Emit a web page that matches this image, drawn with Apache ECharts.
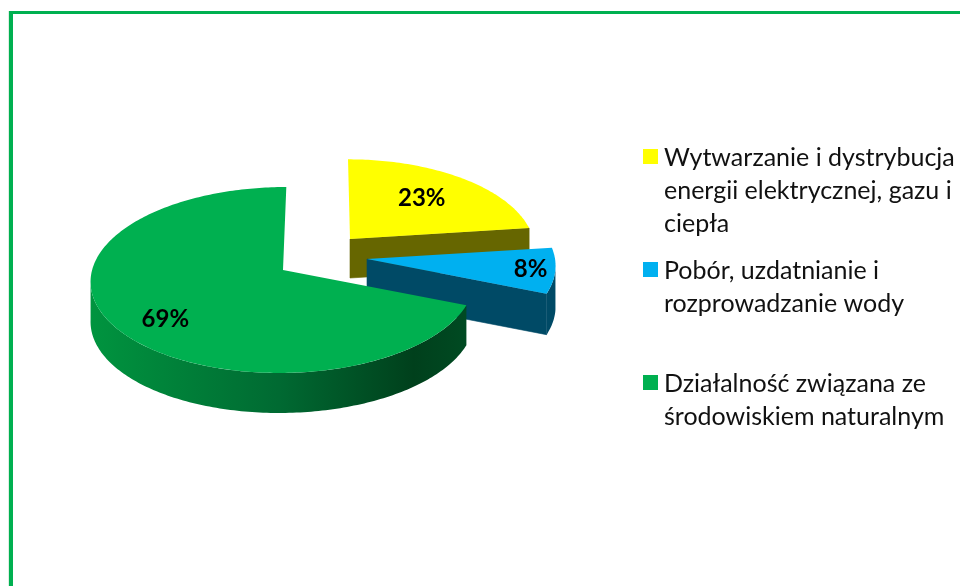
<!DOCTYPE html>
<html>
<head>
<meta charset="utf-8">
<style>
  html, body { margin: 0; padding: 0; background: #fff; }
  #chart { width: 960px; height: 586px; }
</style>
<script src="https://cdn.jsdelivr.net/npm/echarts@6/dist/echarts.min.js"></script>
</head>
<body>
<div id="chart"></div>
<script>
// dane (%)
const categories = [
  'Wytwarzanie i dystrybucja\nenergii elektrycznej, gazu i\nciepła',
  'Pobór, uzdatnianie i\nrozprowadzanie wody',
  'Działalność związana ze\nśrodowiskiem naturalnym'
]
const shares = [23, 8, 69]

const topColors = ['#ffff00', '#00b0f0', '#00b050']
const wallStops = [
  [[0, '#666600'], [1, '#666600']],
  [[0, '#004a66'], [1, '#004a66']],
  [[0, '#00943f'], [0.5, '#006a32'], [0.86, '#00401c'], [1, '#004a22']]
]

// geometria rzutu 3D: wierzchołek, skala, pochylenie i grubość każdego wycinka
const apexes = [[350, 239], [367, 259], [283, 270]]
const scales = [0.96, 0.985, 1]
const shears = [0.025, -0.07, -0.04]
const depths = [39, 41, 40]
const labelRadius = [0.64, 0.87, 0.75]
const labelNudge = [[-1, 0], [0, 0], [8, 9]]
const legendTops = [149, 262, 375]

const RX = 190.9
const RY = 91.9
const PERSP = 0.1075
const rad = Math.PI / 180
// zakres kątów, w którym bok jest zwrócony do widza
const FRONT_FROM = Math.acos(-PERSP)
const FRONT_TO = 2 * Math.PI - FRONT_FROM

const project = (i, angle, f) => {
  const w = 1 + PERSP * f * Math.cos(angle)
  const y = -scales[i] * f * RY * Math.cos(angle) / w
  return [
    apexes[i][0] + scales[i] * f * RX * Math.sin(angle) / w + shears[i] * y,
    apexes[i][1] + y
  ]
}

const rim = (i, from, to) => {
  const pts = []
  const steps = Math.max(2, Math.ceil((to - from) / rad))
  for (let s = 0; s <= steps; s++) pts.push(project(i, from + (to - from) * s / steps, 1))
  return pts
}

const renderSlice = (params, api) => {
  const i = params.dataIndex
  const total = shares.reduce((a, b) => a + b, 0)
  const before = shares.slice(0, i).reduce((a, b) => a + b, 0)
  const start = before / total * 2 * Math.PI
  const end = (before + api.value(0)) / total * 2 * Math.PI
  const d = depths[i]
  const drop = (p) => [p[0], p[1] + d]
  const children = []
  const wallFill = {
    type: 'linear', x: 0, y: 0, x2: 1, y2: 0,
    colorStops: wallStops[i].map((s) => ({ offset: s[0], color: s[1] }))
  }

  // bok przy krawędzi końcowej (ostatni wycinek ma go z tyłu)
  const apex = apexes[i]
  const endPt = project(i, end, 1)
  if (end < FRONT_TO) {
    children.push({
      type: 'polygon',
      shape: { points: [apex, endPt, drop(endPt), drop(apex)] },
      style: { fill: wallStops[i][0][1], stroke: wallStops[i][0][1], lineWidth: 0.6 }
    })
  }

  // zewnętrzny bok
  const a = Math.max(start, FRONT_FROM)
  const b = Math.min(end, FRONT_TO)
  if (b > a) {
    const arc = rim(i, a, b)
    children.push({
      type: 'polygon',
      shape: { points: arc.concat(arc.slice().reverse().map(drop)) },
      style: { fill: wallFill }
    })
  }

  // górna powierzchnia
  children.push({
    type: 'polygon',
    shape: { points: [apex].concat(rim(i, start, end)) },
    style: { fill: topColors[i] }
  })

  const lp = project(i, (start + end) / 2, labelRadius[i])
  children.push({
    type: 'text',
    style: {
      x: lp[0] + labelNudge[i][0], y: lp[1] + labelNudge[i][1],
      text: api.value(0) + '%',
      align: 'center', verticalAlign: 'middle',
      fill: '#000',
      font: 'bold 24px Lato'
    }
  })
  return { type: 'group', children }
}

// legenda i ramka
const legendItems = categories.flatMap((name, i) => [
  {
    type: 'rect',
    shape: { x: 643, y: legendTops[i], width: 15, height: 15 },
    style: { fill: topColors[i] }
  },
  {
    type: 'text',
    style: {
      x: 664, y: legendTops[i] - 8,
      text: name,
      fill: '#111',
      font: '25px Lato',
      lineHeight: 33
    }
  }
])

const frame = [
  { type: 'rect', shape: { x: 8, y: 11, width: 1, height: 575 }, style: { fill: '#dcefe3' } },
  { type: 'rect', shape: { x: 9, y: 11, width: 4, height: 575 }, style: { fill: '#00b050' } },
  { type: 'rect', shape: { x: 9, y: 11, width: 951, height: 3 }, style: { fill: '#00b050' } }
]

const chart = echarts.init(document.getElementById('chart'), null, { renderer: 'canvas' })
chart.setOption({
  animation: false,
  backgroundColor: '#ffffff',
  graphic: { elements: frame.concat(legendItems) },
  series: [{
    type: 'custom',
    coordinateSystem: 'none',
    renderItem: renderSlice,
    data: shares.map((v) => [v])
  }]
})
</script>
</body>
</html>
